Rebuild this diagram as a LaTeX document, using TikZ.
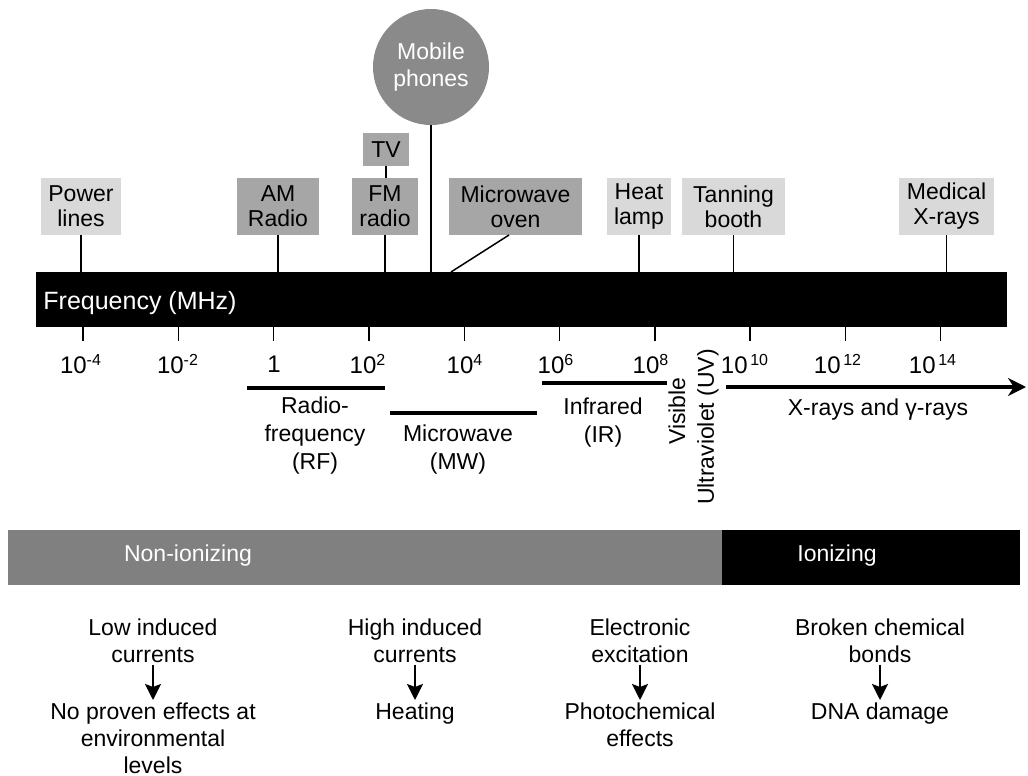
\documentclass[tikz,border=0pt]{standalone}
\usepackage{fontspec}
\setmainfont{Liberation Sans}
\usetikzlibrary{arrows.meta,calc}
\definecolor{lightbox}{RGB}{217,217,217}
\definecolor{midbox}{RGB}{166,166,166}
\definecolor{circgray}{RGB}{138,138,138}
\definecolor{bargray}{RGB}{128,128,128}
\begin{document}
\begin{tikzpicture}[x=0.5pt,y=-0.5pt,
  lbox/.style={fill=lightbox,draw=none,minimum height=28.5pt,inner sep=0pt,align=center,font=\fontsize{11.5}{12.5}\selectfont},
  mbox/.style={fill=midbox,draw=none,minimum height=28.5pt,inner sep=0pt,align=center,font=\fontsize{11.5}{12.5}\selectfont},
  conn/.style={line width=0.75pt},
  tick/.style={line width=0.7pt},
  ticklab/.style={font=\fontsize{12}{13}\selectfont,inner sep=0pt},
  band/.style={line width=1.6pt},
  bandlab/.style={align=center,font=\fontsize{11.5}{14}\selectfont,inner sep=0pt},
  effect/.style={align=center,font=\fontsize{11.5}{13.5}\selectfont,inner sep=0pt},
  effarrow/.style={line width=1.2pt,-{Stealth[length=8pt,width=8pt,inset=1.5pt]}}
]
\useasboundingbox (0,0) rectangle (1028,776);

% frequency bar
\node[fill=black,minimum width=485.5pt,minimum height=27.5pt,inner sep=0pt] (bar) at (521.5,299.5) {};
\node[anchor=west,text=white,font=\fontsize{12.5}{13}\selectfont,inner sep=0pt] (freq) at (43,303) {Frequency (MHz)};

% top boxes
\node[lbox,minimum width=40pt] (power) at (81,206.5) {Power\\lines};
\node[mbox,minimum width=41pt] (am) at (278,206.5) {AM\\Radio};
\node[mbox,minimum width=33pt] (fm) at (385,206.5) {FM\\radio};
\node[mbox,minimum width=23pt,minimum height=16.5pt] (tv) at (386,149.5) {TV};
\node[mbox,minimum width=66.5pt] (mwo) at (515.5,206.5) {Microwave\\oven};
\node[lbox,minimum width=32pt] (heat) at (639,206.5) {Heat\\lamp};
\node[lbox,minimum width=51.5pt] (tan) at (733.5,206.5) {Tanning\\booth};
\node[lbox,minimum width=47.5pt] (med) at (946.5,206.5) {Medical\\X-rays};
\node[circle,fill=circgray,minimum size=58pt,inner sep=0pt,align=center,text=white,font=\fontsize{11.5}{13.5}\selectfont] (mob) at (431,67) {Mobile\\phones};

% connectors to bar
\draw[conn] (power.south) -- (power.south |- bar.north);
\draw[conn] (am.south) -- (am.south |- bar.north);
\draw[conn] (fm.south) -- (fm.south |- bar.north);
\draw[conn] (tv.south) -- (tv.south |- fm.north);
\draw[conn] (mob.south) -- (mob.south |- bar.north);
\draw[conn] (heat.south) -- (heat.south |- bar.north);
\draw[conn] (tan.south) -- (tan.south |- bar.north);
\draw[conn] (med.south) -- (med.south |- bar.north);
\coordinate (mwtop) at (509,235);
\coordinate (mwbar) at (451,272);
\draw[conn] (mwtop) -- (mwbar);

% ticks and labels
\foreach \k/\lx/\lab in {0/81/10\textsuperscript{-4},1/178/10\textsuperscript{-2},2/274/1,3/368/10\textsuperscript{2},4/465/10\textsuperscript{4},5/556/10\textsuperscript{6},6/651/10\textsuperscript{8},7/745/10\textsuperscript{\,10},8/838/10\textsuperscript{\,12},9/933/10\textsuperscript{\,14}}{
  \coordinate (t\k) at ({83+95.3*\k},327);
  \draw[tick] (t\k) -- ++(0,14);
  \node[ticklab] (l\k) at (\lx,364) {\lab};
}

% bands
\coordinate (rfa) at (247,388); \coordinate (rfb) at (385,388);
\draw[band] (rfa) -- (rfb);
\node[bandlab] (rf) at (315,436) {Radio-\\frequency\\(RF)};
\coordinate (mwa) at (390,413); \coordinate (mwb) at (537,413);
\draw[band] (mwa) -- (mwb);
\node[bandlab] (mw) at (458,450) {Microwave\\(MW)};
\coordinate (ira) at (542,383); \coordinate (irb) at (667,383);
\draw[band] (ira) -- (irb);
\node[bandlab] (ir) at (603,423) {Infrared\\(IR)};
\node[bandlab,rotate=90] (vis) at (677,411) {Visible};
\node[bandlab,rotate=90] (uv) at (708,427) {Ultraviolet (UV)};
\coordinate (xa) at (726,387); \coordinate (xb) at (1026,387);
\draw[band,-{Stealth[length=9pt,width=9pt]}] (xa) -- (xb);
\node[bandlab] (xr) at (878,410) {X-rays and γ-rays};

% ionizing bar
\node[fill=bargray,minimum width=357pt,minimum height=27.5pt,inner sep=0pt] (non) at (365,557.5) {};
\node[fill=black,minimum width=149pt,minimum height=27.5pt,inner sep=0pt] (ion) at (871,557.5) {};
\node[text=white,font=\fontsize{11.5}{13}\selectfont,inner sep=0pt] (nonlab) at (188,556) {Non-ionizing};
\node[text=white,font=\fontsize{11.5}{13}\selectfont,inner sep=0pt] (ionlab) at (837,556) {Ionizing};

% effects
\node[effect,anchor=north] (c1) at (153,618) {Low induced\\currents};
\node[effect,anchor=north] (e1) at (153,702) {No proven effects at\\environmental\\levels};
\node[effect,anchor=north] (c2) at (415,618) {High induced\\currents};
\node[effect,anchor=north] (e2) at (415,702) {Heating};
\node[effect,anchor=north] (c3) at (640,618) {Electronic\\excitation};
\node[effect,anchor=north] (e3) at (640,702) {Photochemical\\effects};
\node[effect,anchor=north] (c4) at (880,618) {Broken chemical\\bonds};
\node[effect,anchor=north] (e4) at (880,702) {DNA damage};
\foreach \i in {1,2,3,4}{
  \draw[effarrow,shorten <=1pt,shorten >=1pt] (c\i.south) -- (e\i.north);
}
\end{tikzpicture}
\end{document}
